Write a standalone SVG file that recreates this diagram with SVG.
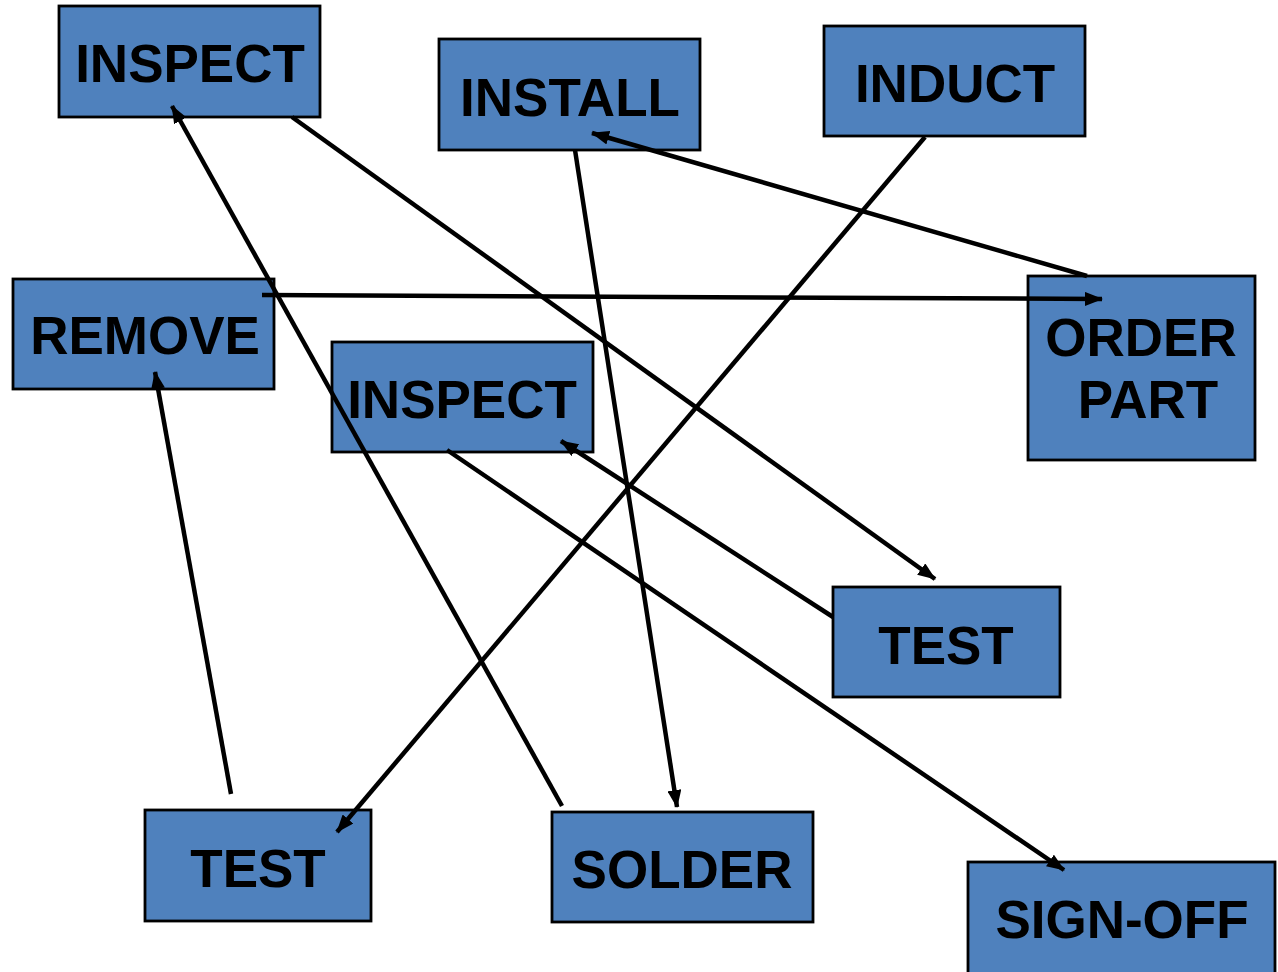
<svg xmlns="http://www.w3.org/2000/svg" width="1278" height="972" viewBox="0 0 1278 972">
<style>
.box{fill:#4f81bd;stroke:#000;stroke-width:2.8}
.lbl{font-family:"Liberation Sans",Arial,sans-serif;font-weight:bold;font-size:53px;fill:#000;text-anchor:middle}
.con{stroke:#000;stroke-width:4.5;fill:none;marker-end:url(#ah)}
</style>
<defs>
<marker id="ah" markerUnits="userSpaceOnUse" markerWidth="18" markerHeight="14" refX="17" refY="7" orient="auto">
<path d="M0,0 L18,7 L0,14 Z" fill="#000"/>
</marker>
</defs>
<rect width="1278" height="972" fill="#fff"/>
<g id="inspect1"><rect class="box" x="59" y="6" width="261" height="111"/><text class="lbl" x="190" y="82">INSPECT</text></g>
<g id="install"><rect class="box" x="439" y="39" width="261" height="111"/><text class="lbl" x="570" y="116">INSTALL</text></g>
<g id="induct"><rect class="box" x="824" y="26" width="261" height="110"/><text class="lbl" x="955" y="102">INDUCT</text></g>
<g id="remove"><rect class="box" x="13" y="279" width="261" height="110"/><text class="lbl" x="145" y="354">REMOVE</text></g>
<g id="orderpart"><rect class="box" x="1028" y="276" width="227" height="184"/><text class="lbl" x="1141" y="356">ORDER</text><text class="lbl" x="1148" y="418">PART</text></g>
<g id="inspect2"><rect class="box" x="332" y="342" width="261" height="110"/><text class="lbl" x="462" y="418">INSPECT</text></g>
<g id="test1"><rect class="box" x="833" y="587" width="227" height="110"/><text class="lbl" x="946" y="664">TEST</text></g>
<g id="test2"><rect class="box" x="145" y="810" width="226" height="111"/><text class="lbl" x="258" y="887">TEST</text></g>
<g id="solder"><rect class="box" x="552" y="812" width="261" height="110"/><text class="lbl" x="682" y="888">SOLDER</text></g>
<g id="signoff"><rect class="box" x="968" y="862" width="307" height="120"/><text class="lbl" x="1122" y="938">SIGN-OFF</text></g>
<g id="connectors">
<line class="con" x1="292" y1="117" x2="935" y2="579"/>
<line class="con" x1="562" y1="806" x2="172" y2="106"/>
<line class="con" x1="575" y1="150" x2="677" y2="807"/>
<line class="con" x1="1087" y1="276" x2="592" y2="133"/>
<line class="con" x1="925" y1="137" x2="337" y2="832"/>
<line class="con" x1="262" y1="295" x2="1102" y2="299"/>
<line class="con" x1="231" y1="794" x2="155" y2="372"/>
<line class="con" x1="833" y1="617" x2="561" y2="441"/>
<line class="con" x1="447" y1="450" x2="1064" y2="870"/>
</g>
</svg>
